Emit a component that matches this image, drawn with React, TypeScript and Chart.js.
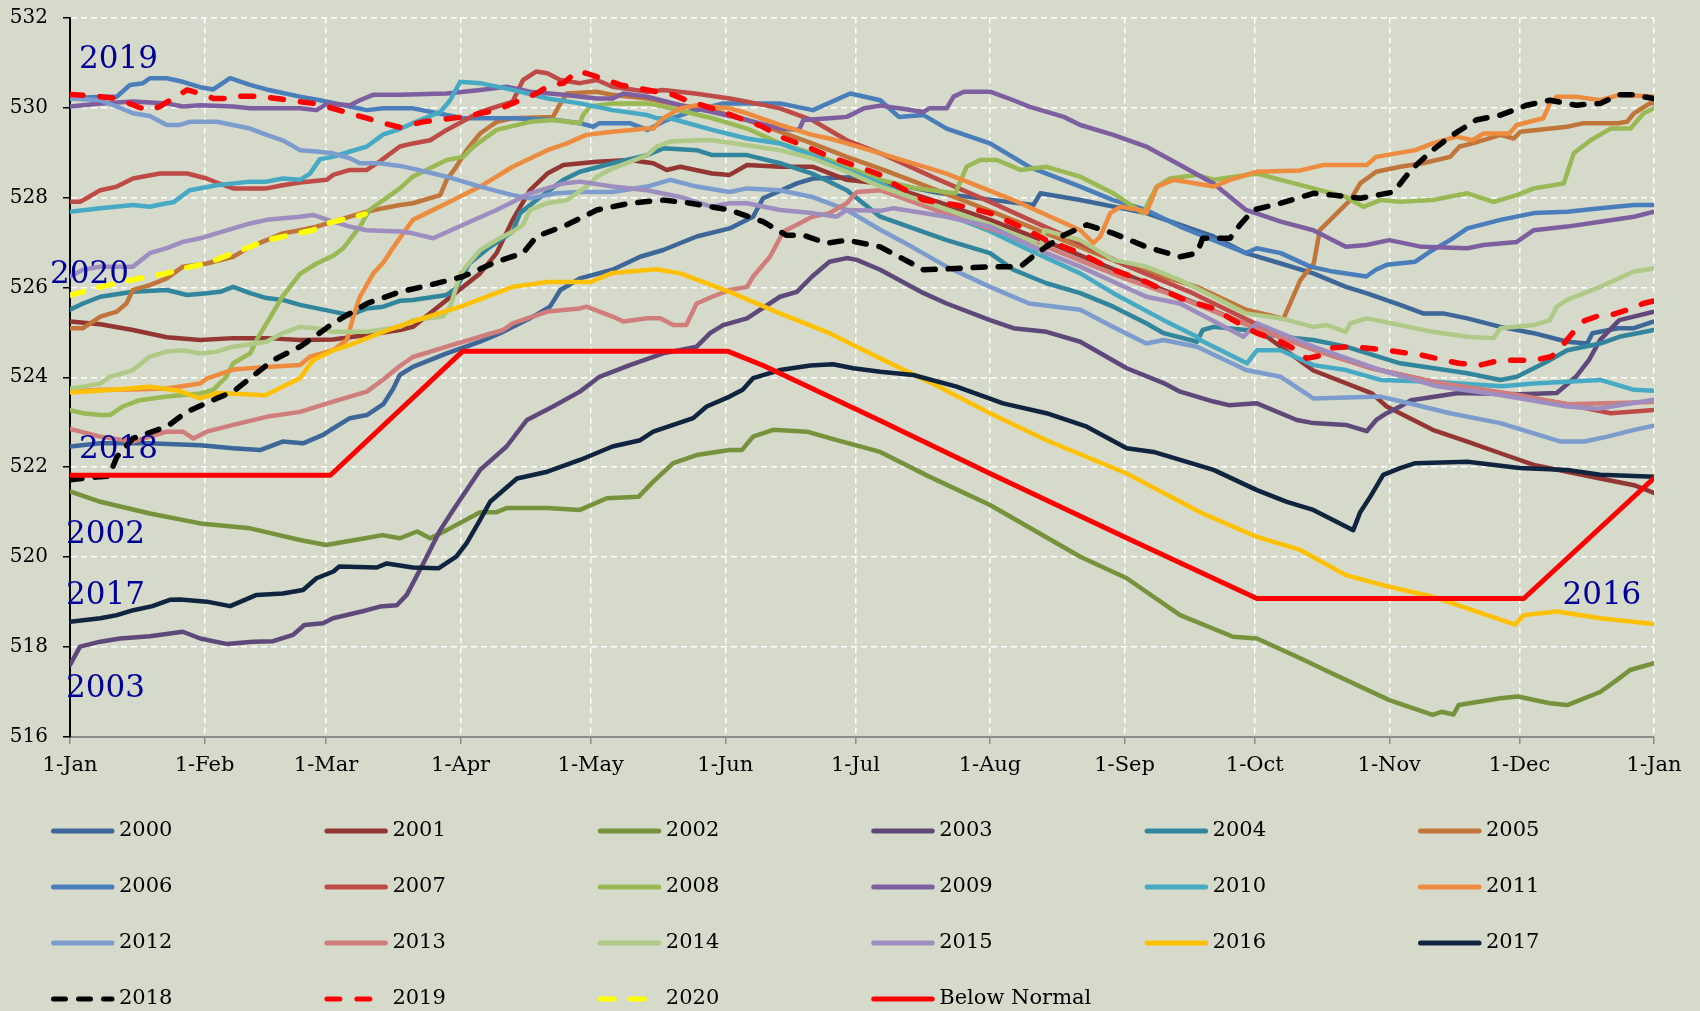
import React, { useEffect, useRef } from 'react';
import { Chart, registerables } from 'chart.js';

Chart.register(...registerables);

// ---------- axis data ----------
const MONTH_DAYS = [0, 31, 59, 90, 120, 151, 181, 212, 243, 273, 304, 334, 365];
const MONTH_LABELS = ['1-Jan', '1-Feb', '1-Mar', '1-Apr', '1-May', '1-Jun', '1-Jul', '1-Aug', '1-Sep', '1-Oct', '1-Nov', '1-Dec', '1-Jan'];
const Y_MIN = 516;
const Y_MAX = 532;
const Y_STEP = 2;

// ---------- series (day of year, elevation) ----------
const S2000: [number, number][] = [[0,522.46],[7,522.53],[18,522.53],[30,522.49],[37.6,522.42],[43.8,522.38],[49,522.57],[53.7,522.53],[58.3,522.72],[60.6,522.86],[64.5,523.09],[68.4,523.16],[72.2,523.4],[74.5,523.75],[76,524.05],[79,524.23],[86.8,524.53],[94.5,524.79],[99.8,525.01],[106,525.31],[110.6,525.57],[113,525.94],[117.5,526.2],[125,526.39],[131.4,526.68],[136.7,526.83],[144.4,527.13],[152,527.31],[157.4,527.57],[159.7,527.98],[167.5,528.31],[171.2,528.42],[180,528.45],[187,528.35],[200,528.1],[212,527.95],[222,527.83],[223.6,528.09],[232.8,527.94],[248,527.65],[263.5,527.13],[271,526.76],[279,526.53],[286.5,526.31],[294,526.01],[298.7,525.87],[306.5,525.61],[311.8,525.42],[316.4,525.42],[322,525.31],[329.6,525.12],[337.3,524.98],[345,524.79],[349.6,524.75],[350.8,524.98],[356.7,525.09],[360.4,525.09],[365,525.24]];
const S2001: [number, number][] = [[0,525.24],[7,525.18],[14.5,525.05],[22.3,524.89],[30,524.83],[37.6,524.87],[45.3,524.87],[53,524.83],[60.6,524.84],[68.4,524.94],[76,525.05],[79,525.12],[86.8,525.72],[94.5,526.31],[98.3,526.76],[102,527.5],[106,528.16],[110,528.53],[113.7,528.72],[121.4,528.79],[129,528.83],[134.4,528.76],[137.5,528.61],[140.6,528.68],[148,528.53],[152,528.5],[156,528.72],[163.6,528.68],[171.2,528.68],[179,528.39],[186.7,528.31],[200,527.9],[212,527.5],[228,526.9],[243,526.3],[258,525.7],[273,525.1],[286.5,524.15],[300,523.64],[303.4,523.35],[314,522.83],[322,522.57],[329.6,522.31],[337.3,522.05],[345,521.9],[352.6,521.75],[360.4,521.6],[365,521.43]];
const S2002: [number, number][] = [[0,521.46],[7,521.23],[18.4,520.97],[30,520.75],[41.5,520.64],[53,520.38],[59,520.27],[68,520.42],[72,520.49],[76,520.42],[80,520.57],[83,520.42],[86.8,520.6],[94.5,521.0],[98.3,521.0],[100.6,521.09],[110,521.09],[117.5,521.05],[123.7,521.31],[131,521.34],[134.4,521.68],[139,522.09],[144.4,522.27],[152,522.38],[154.8,522.38],[157.4,522.68],[162,522.83],[169.8,522.79],[176.7,522.6],[186.7,522.34],[198,521.79],[212,521.16],[232.8,520.01],[243.5,519.53],[255.8,518.71],[268,518.23],[273.5,518.19],[283.5,517.75],[290,517.45],[304,516.82],[314,516.49],[316,516.56],[318.8,516.5],[320,516.71],[329.6,516.86],[333.6,516.9],[341,516.75],[345,516.71],[352.6,517.0],[356.5,517.27],[359.5,517.49],[365,517.64]];
const S2003: [number, number][] = [[0,517.6],[2.3,518.01],[7,518.12],[11.5,518.19],[18.4,518.24],[26,518.34],[30,518.19],[36,518.07],[42.2,518.12],[46.8,518.13],[51.4,518.27],[54,518.49],[58.3,518.53],[60.6,518.64],[68.4,518.82],[71.4,518.9],[75.3,518.93],[77.6,519.16],[81.4,519.86],[85.3,520.6],[88.3,521.05],[94.5,521.94],[100.6,522.46],[105.3,523.05],[111.3,523.35],[117.5,523.68],[122,524.01],[129,524.27],[136.7,524.53],[144.4,524.68],[147.5,524.98],[150.5,525.16],[156,525.31],[163.6,525.79],[167.5,525.9],[171,526.24],[175,526.57],[179,526.65],[181.3,526.61],[186.7,526.39],[196.7,525.87],[202,525.64],[212,525.27],[217.4,525.09],[225,525.01],[232.8,524.79],[243.5,524.2],[252,523.87],[255.8,523.68],[263.5,523.46],[267,523.38],[273.5,523.42],[282.7,523.05],[286.5,522.98],[294,522.94],[298.8,522.8],[301,523.05],[303.4,523.2],[306.5,523.35],[309,523.49],[320,523.65],[334,523.62],[342.6,523.65],[347,524.01],[350,524.38],[352.6,524.83],[357,525.27],[365,525.46]];
const S2004: [number, number][] = [[0,525.5],[3,525.64],[7,525.79],[14.5,525.9],[22.3,525.94],[27,525.83],[31.5,525.87],[34.6,525.9],[37.6,526.01],[41.5,525.87],[45.3,525.76],[49,525.72],[53,525.61],[60.6,525.46],[64.5,525.38],[68.4,525.53],[72.2,525.57],[76,525.7],[79,525.72],[86.8,525.83],[89,525.98],[92,526.53],[96.8,526.9],[102,527.24],[103.7,527.65],[107.5,527.94],[113.7,528.39],[117.5,528.57],[125,528.76],[133,528.94],[136.7,529.09],[144.4,529.05],[148,528.94],[156,528.94],[163.6,528.76],[171,528.53],[179,528.16],[186.7,527.57],[202,527.05],[212,526.76],[217.4,526.39],[225,526.09],[232.8,525.87],[240.4,525.57],[248,525.2],[252,524.98],[259.7,524.79],[261,525.05],[263.5,525.12],[271,525.05],[279,524.9],[286.5,524.83],[294,524.68],[306.5,524.31],[322,524.09],[329.6,523.94],[333.4,524.01],[341,524.38],[345,524.6],[352.6,524.75],[357,524.9],[365,525.05]];
const S2005: [number, number][] = [[0,525.09],[3,525.09],[7,525.35],[10.8,525.46],[13,525.64],[14.5,525.94],[18.4,526.05],[22.3,526.2],[26,526.46],[31.5,526.53],[37.6,526.68],[41.5,526.9],[45.3,527.05],[49,527.2],[53,527.27],[56.8,527.35],[60.6,527.46],[64.5,527.57],[68.4,527.68],[72.2,527.76],[76,527.83],[79,527.87],[85.3,528.05],[86.8,528.39],[89,528.68],[91.4,529.05],[94.5,529.42],[98.3,529.68],[102,529.76],[111.3,529.79],[113,530.09],[114.5,530.31],[121.4,530.35],[125,530.28],[133,530.2],[140.6,530.05],[148,529.94],[156,529.72],[163.6,529.46],[171,529.2],[179,528.9],[186.7,528.64],[200,528.15],[212,527.7],[225,527.2],[243,526.5],[259.7,526.01],[271,525.5],[279.6,525.3],[283.5,526.16],[286.6,526.53],[288,527.27],[295,527.94],[297.3,528.31],[301,528.57],[306.5,528.68],[311.8,528.76],[318,528.9],[320.2,529.13],[323.2,529.2],[329.6,529.39],[332.7,529.31],[334.2,529.46],[345,529.57],[348.8,529.65],[356.7,529.65],[358.8,529.68],[360.4,529.87],[364,530.09],[365,530.1]];
const S2006: [number, number][] = [[0,530.2],[7,530.24],[10.8,530.24],[13.8,530.5],[16.8,530.54],[18.4,530.65],[22.3,530.65],[26,530.57],[30,530.45],[33,530.4],[36.9,530.65],[41.5,530.5],[45.3,530.4],[53,530.24],[57.6,530.16],[64.5,530.02],[68.4,529.94],[72.2,529.98],[79,529.98],[90.6,529.76],[102,529.76],[112,529.72],[117.5,529.65],[120.6,529.57],[122,529.65],[129,529.65],[133,529.5],[137,529.7],[143,529.9],[150.5,530.09],[163.6,530.09],[171.2,529.94],[179.8,530.31],[186.7,530.16],[191,529.79],[196.7,529.83],[202,529.53],[212,529.2],[221,528.68],[232.8,528.24],[240.4,527.94],[248,527.72],[255.8,527.35],[263.5,527.05],[271,526.76],[273.5,526.87],[279,526.76],[285.8,526.46],[291,526.35],[298.7,526.24],[300.9,526.39],[303.4,526.5],[310,526.57],[314,526.83],[318,527.05],[322,527.31],[329.6,527.5],[337.3,527.65],[345,527.68],[352.6,527.76],[360.4,527.83],[365,527.83]];
const S2007: [number, number][] = [[0,527.9],[2.3,527.9],[3.8,527.98],[7,528.16],[10.8,528.24],[14.5,528.42],[20.7,528.53],[27,528.53],[31.5,528.42],[33.8,528.33],[37.6,528.2],[45.3,528.2],[49,528.27],[53,528.33],[59.2,528.39],[60.6,528.5],[64.5,528.61],[68.4,528.61],[71.4,528.8],[76,529.13],[79,529.2],[83,529.27],[86.8,529.5],[94.5,529.9],[102,530.13],[104.4,530.61],[107.5,530.8],[110,530.76],[113,530.61],[117.5,530.54],[121.4,530.61],[125,530.46],[133,530.35],[136.7,530.39],[144,530.31],[152,530.2],[156,530.13],[163.6,529.98],[171,529.72],[179,529.27],[186.7,528.98],[200,528.4],[212,527.9],[228,527.2],[243,526.5],[258,525.9],[273,525.2],[287,524.6],[300,524.2],[314,523.9],[330,523.65],[345,523.4],[355,523.2],[365,523.27]];
const S2008: [number, number][] = [[0,523.27],[3,523.2],[7,523.16],[9.2,523.16],[12.2,523.35],[16,523.49],[22.3,523.57],[30,523.64],[33,523.72],[36,524.01],[37.6,524.31],[41.5,524.53],[43,524.83],[45.3,525.2],[49,525.8],[53,526.3],[56.8,526.53],[60.6,526.7],[63,526.87],[66.8,527.35],[69,527.72],[72.2,527.94],[76,528.2],[79,528.46],[86.8,528.83],[90.6,528.9],[93,529.13],[98.3,529.5],[106,529.68],[111.3,529.72],[117.5,529.65],[118.2,529.83],[119.8,530.02],[125,530.09],[133,530.09],[136.7,530.02],[148,529.76],[156,529.53],[163.6,529.2],[171,528.98],[179,528.68],[186.7,528.39],[195,528.2],[204,528.09],[206.6,528.68],[209.7,528.83],[213.6,528.83],[219,528.61],[225,528.68],[232.8,528.46],[240.4,528.09],[247.3,527.65],[250.4,528.24],[253.5,528.42],[259.7,528.5],[263.5,528.39],[273.5,528.53],[279,528.39],[286.5,528.2],[294,528.01],[298,527.79],[302,527.94],[306.5,527.9],[314,527.94],[322,528.09],[328,527.9],[333.4,528.05],[337.3,528.2],[344.2,528.31],[346.5,528.98],[350.4,529.27],[355,529.53],[359.6,529.53],[362.6,529.87],[365,529.98]];
const S2009: [number, number][] = [[0,530.02],[7,530.09],[14.5,530.13],[22.3,530.09],[26,530.02],[30,530.05],[37.6,530.02],[41.5,529.98],[53,529.98],[56.8,529.94],[59.2,530.08],[64.5,530.05],[66.8,530.16],[69.8,530.28],[76,530.28],[86.8,530.31],[94.5,530.39],[100.6,530.46],[106,530.35],[113.7,530.28],[121.4,530.2],[125,530.2],[127.5,530.31],[133,530.24],[140.6,530.05],[148,529.9],[156,529.72],[163.6,529.53],[168,529.5],[169,529.72],[175,529.76],[179,529.79],[183,529.98],[186.7,530.04],[191,529.98],[196.7,529.9],[198,529.98],[202,529.98],[203.6,530.24],[206,530.35],[212,530.35],[217.4,530.16],[221,530.02],[229,529.79],[232.8,529.61],[240.4,529.39],[248,529.13],[255.8,528.72],[263.5,528.31],[271,527.72],[279,527.46],[286.5,527.27],[294,526.9],[298.7,526.94],[304,527.05],[311.5,526.9],[322,526.87],[325.7,526.94],[333.4,527.01],[337.3,527.27],[345,527.35],[352.6,527.46],[360.4,527.57],[365,527.68]];
const S2010: [number, number][] = [[0,527.68],[7,527.76],[14.5,527.83],[18.4,527.79],[22.3,527.87],[23.8,527.89],[27.6,528.16],[33.8,528.27],[41.5,528.35],[45.3,528.35],[49,528.42],[53,528.39],[55.3,528.53],[57.6,528.85],[60.6,528.9],[64.5,529.02],[68.4,529.13],[72.2,529.4],[76,529.52],[79,529.65],[85.3,529.9],[87.6,530.16],[89.9,530.57],[94.5,530.54],[102,530.39],[110,530.2],[117.5,530.09],[125,529.94],[133,529.83],[135.2,529.76],[138.3,529.76],[148,529.5],[156,529.31],[163.6,529.2],[171,528.94],[179,528.61],[186.7,528.31],[200,527.7],[212,527.25],[221,526.83],[232.8,526.31],[240.4,525.87],[252,525.27],[259.7,524.9],[260.4,524.83],[271.2,524.31],[273.5,524.6],[279,524.6],[286.5,524.27],[294,524.16],[302,523.94],[314,523.9],[330,523.8],[337.3,523.86],[352.6,523.94],[360.4,523.72],[365,523.7]];
const S2011: [number, number][] = [[0,523.68],[7,523.72],[14.5,523.73],[22.3,523.75],[30,523.86],[31.5,523.97],[37.6,524.17],[45.3,524.23],[53,524.27],[55.3,524.46],[60.6,524.6],[63.8,524.83],[65.3,525.35],[66.8,525.79],[69.9,526.31],[72.2,526.55],[75.3,527.0],[79,527.5],[86.8,527.87],[94.5,528.24],[102,528.68],[110,529.05],[114.5,529.2],[119,529.39],[125,529.46],[133,529.53],[134.4,529.53],[136.7,529.76],[140.6,529.98],[144.4,530.05],[152,529.98],[156,529.87],[163.6,529.61],[171,529.39],[175,529.31],[179,529.2],[186.7,528.98],[202,528.53],[217.4,527.94],[232.8,527.27],[235.8,526.98],[237.4,527.13],[239.7,527.65],[242,527.79],[246.6,527.72],[248,527.65],[250.5,528.24],[254.3,528.39],[263.5,528.24],[267.3,528.39],[273.5,528.57],[283.5,528.6],[288.8,528.72],[298.8,528.72],[301,528.9],[310,529.05],[314,529.2],[319.5,529.35],[323.2,529.27],[325.7,529.42],[331.6,529.42],[333.4,529.61],[339.5,529.76],[341,530.09],[342.6,530.24],[347,530.24],[352.6,530.16],[357,530.28],[365,530.24]];
const S2012: [number, number][] = [[0,530.2],[7,530.16],[10.8,530.02],[14.5,529.87],[18.4,529.81],[22.3,529.61],[25.3,529.61],[27.6,529.68],[33.8,529.68],[37.6,529.61],[41.5,529.53],[45.3,529.39],[49,529.27],[53,529.05],[56.8,529.02],[60.6,528.98],[64.5,528.87],[66.8,528.76],[71.4,528.76],[76,528.7],[79,528.64],[86.8,528.46],[94.5,528.24],[102,528.05],[106,527.98],[112,528.09],[117.5,528.12],[125,528.12],[133,528.24],[138.3,528.39],[144.4,528.24],[152,528.12],[156,528.2],[163.6,528.16],[171,528.01],[179,527.72],[186.7,527.28],[194,526.9],[202,526.46],[212,526.01],[221,525.64],[232.8,525.5],[240.4,525.12],[248,524.75],[252,524.83],[259.7,524.68],[271,524.16],[279,524.01],[286.5,523.53],[302,523.57],[309.5,523.4],[318,523.2],[329.6,522.98],[337.3,522.75],[343.5,522.57],[348.9,522.57],[354.3,522.68],[360.4,522.83],[365,522.92]];
const S2013: [number, number][] = [[0,522.85],[7,522.68],[14.5,522.57],[18.4,522.68],[22.3,522.79],[26,522.79],[28.4,522.64],[31.5,522.79],[37.6,522.94],[45.3,523.12],[53,523.23],[60.6,523.46],[68.4,523.68],[72.2,523.95],[76,524.25],[79,524.45],[86.8,524.68],[94.5,524.9],[99.8,525.05],[102,525.2],[110,525.46],[117.5,525.53],[119,525.57],[125,525.35],[127.5,525.24],[133,525.31],[136,525.31],[139,525.16],[142,525.16],[144.4,525.64],[148,525.79],[152,525.94],[156,526.01],[157.4,526.24],[161.3,526.68],[164.4,527.24],[167.5,527.39],[171,527.57],[175,527.65],[179,527.87],[181.3,528.12],[186.7,528.16],[200,527.7],[212,527.3],[225,526.9],[243,526.2],[255,525.8],[273,525.1],[287,524.6],[300,524.2],[314,523.9],[334,523.6],[345,523.4],[365,523.45]];
const S2014: [number, number][] = [[0,523.75],[3,523.79],[7,523.86],[9.2,524.01],[10.8,524.05],[14.5,524.16],[18.4,524.46],[22.3,524.57],[26,524.6],[30,524.53],[33.8,524.57],[37.6,524.68],[45.3,524.79],[49,524.98],[53,525.12],[56.8,525.09],[60.6,525.01],[68.4,525.01],[76,525.12],[79,525.27],[86,525.35],[87.6,525.57],[90,526.31],[94.5,526.83],[98.3,527.05],[102,527.24],[104.4,527.39],[106,527.72],[110,527.87],[114.5,527.94],[119,528.24],[121.4,528.46],[125,528.64],[133,528.94],[135.2,529.13],[138.3,529.24],[144.4,529.27],[148,529.27],[156,529.16],[163.6,529.05],[171,528.87],[179,528.57],[186.7,528.24],[200,527.8],[212,527.4],[222,527.0],[223.5,526.8],[224.5,527.27],[232.8,527.05],[240.4,526.61],[248,526.46],[255.8,526.16],[263.5,525.79],[271,525.42],[279,525.31],[286.5,525.12],[289.6,525.16],[294,525.01],[295,525.2],[298.8,525.31],[306.5,525.16],[314,525.01],[322,524.9],[328,524.87],[329.6,525.09],[337.3,525.16],[341,525.27],[342.6,525.57],[345,525.72],[352.6,526.01],[360.4,526.35],[365,526.42]];
const S2015: [number, number][] = [[0,526.24],[3,526.39],[7,526.46],[14.5,526.46],[18.4,526.76],[22.3,526.87],[26,527.01],[30,527.09],[33.8,527.2],[37.6,527.31],[41.5,527.42],[45.3,527.5],[53,527.57],[56,527.61],[60.6,527.46],[64.5,527.35],[68.4,527.27],[76,527.24],[79,527.2],[83.7,527.09],[90.6,527.39],[98.3,527.72],[106,528.09],[113.7,528.31],[117.5,528.35],[125,528.24],[133,528.16],[140.6,528.01],[148,527.79],[152,527.87],[156,527.87],[163.6,527.72],[171,527.65],[176.7,527.57],[179,527.72],[186.7,527.7],[189.8,527.76],[202,527.57],[212,527.35],[225,526.76],[232.8,526.46],[248,525.79],[255.8,525.64],[270.4,524.9],[273.5,525.2],[286.5,524.68],[302,524.16],[315,523.8],[330,523.6],[345,523.35],[352,523.3],[365,523.5]];
const S2016: [number, number][] = [[0,523.66],[10,523.72],[18.4,523.79],[25,523.7],[30,523.53],[34,523.65],[45,523.6],[53,523.98],[56,524.38],[60.7,524.6],[64.5,524.72],[71.4,524.98],[76,525.14],[79,525.24],[90,525.57],[102,526.01],[110,526.12],[120,526.12],[125,526.32],[135,526.4],[140.6,526.31],[152,525.9],[163.6,525.42],[175,524.98],[186.7,524.42],[200,523.8],[212,523.2],[225,522.6],[243.5,521.86],[261,520.97],[273.5,520.45],[283.5,520.16],[294,519.6],[304,519.34],[314,519.12],[333,518.5],[335,518.71],[342.7,518.79],[352.6,518.64],[365,518.51]];
const S2017: [number, number][] = [[0,518.56],[7,518.64],[10.8,518.71],[14.6,518.82],[19,518.91],[23,519.05],[25.4,519.06],[31.5,519.01],[36.9,518.91],[43,519.16],[49,519.19],[53.7,519.27],[56.8,519.53],[60.7,519.68],[62,519.79],[70.7,519.77],[73,519.86],[79,519.77],[84.9,519.75],[89,520.01],[91.4,520.31],[94.5,520.83],[96.8,521.23],[103,521.75],[110,521.9],[117.5,522.16],[125,522.46],[131.4,522.6],[134.4,522.79],[143.6,523.09],[146.7,523.35],[152,523.57],[155,523.72],[157.4,523.98],[163.6,524.16],[170.6,524.26],[175.8,524.29],[180.5,524.2],[186.7,524.12],[194.3,524.05],[204.3,523.79],[215,523.42],[225,523.2],[234.3,522.9],[243.5,522.42],[249.7,522.34],[263.5,521.94],[273.5,521.49],[280.4,521.23],[286.5,521.05],[295.7,520.6],[297.3,521.0],[299.6,521.34],[302.6,521.83],[306.5,521.98],[310,522.09],[322,522.12],[334,521.98],[345,521.94],[352.6,521.83],[365,521.79]];
const S2018: [number, number][] = [[0,521.72],[7,521.79],[9,521.8],[10.8,522.23],[14.5,522.64],[22.3,522.9],[26.9,523.23],[33.8,523.53],[37.6,523.68],[41.5,523.98],[46.8,524.38],[53,524.68],[56.9,524.94],[60.6,525.2],[64.5,525.42],[68.4,525.64],[76,525.9],[83,526.05],[90.6,526.24],[98.3,526.57],[104.4,526.76],[107.5,527.13],[114.5,527.39],[121.4,527.72],[129,527.87],[136.7,527.94],[143,527.87],[152,527.72],[159.7,527.46],[165,527.16],[169,527.16],[174.4,526.98],[179,527.05],[186.7,526.9],[196.7,526.39],[204.3,526.42],[212,526.46],[219,526.46],[222.8,526.76],[229,527.16],[234.3,527.39],[240.4,527.2],[248,526.9],[255.8,526.68],[259.7,526.76],[261,527.09],[267.3,527.09],[269.6,527.39],[272.7,527.72],[279,527.87],[286.5,528.09],[291,528.05],[297.3,527.98],[305,528.12],[309,528.61],[314,529.05],[318,529.35],[324,529.72],[329.6,529.83],[335.7,530.05],[341,530.16],[347,530.05],[352.6,530.09],[357,530.28],[360,530.28],[365,530.2]];
const S2019: [number, number][] = [[0,530.29],[7,530.24],[10.8,530.2],[16,530.0],[18.4,529.94],[20.7,530.02],[23,530.16],[27,530.39],[30,530.31],[33,530.2],[36,530.2],[37.6,530.25],[43.8,530.25],[49,530.18],[56.9,530.08],[64.5,529.87],[68.4,529.76],[72.2,529.65],[76,529.56],[81.4,529.68],[90.6,529.79],[98.3,529.94],[103.7,530.16],[107.5,530.31],[110.6,530.5],[113.7,530.54],[116.8,530.8],[119,530.76],[123.7,530.61],[126.8,530.5],[133,530.39],[139,530.28],[142,530.16],[148,529.98],[154.4,529.76],[159.7,529.57],[163.6,529.35],[169.8,529.13],[175,528.9],[180.5,528.72],[186.7,528.5],[189.7,528.31],[196.7,527.94],[204.3,527.83],[212,527.65],[219,527.35],[225,527.05],[232.8,526.76],[240.4,526.39],[248,526.12],[255.8,525.76],[263.5,525.53],[268,525.27],[273.5,524.98],[279,524.79],[282.7,524.6],[285,524.42],[288,524.48],[290.4,524.65],[295.7,524.68],[303.4,524.6],[311.5,524.49],[320,524.31],[325,524.27],[329.6,524.38],[337.5,524.38],[341.4,524.46],[343.7,524.68],[346.8,525.05],[348.5,525.24],[352.6,525.38],[355.6,525.4],[360,525.53],[362.5,525.64],[365,525.7]];
const S2020: [number, number][] = [[0,525.83],[3,525.9],[7,526.01],[10.8,526.09],[16,526.2],[22.3,526.31],[26,526.42],[31.5,526.53],[37.6,526.76],[40.7,526.87],[45.3,527.05],[50.7,527.16],[56,527.27],[59.2,527.42],[63.8,527.53],[68,527.63]];
const BELOW_NORMAL: [number, number][] = [[0,521.82],[60,521.82],[90.5,524.58],[151.5,524.58],[160,524.25],[187,523.02],[212,521.86],[243,520.45],[273.5,519.08],[335,519.08],[365,521.76]];

const SERIES_NAMES = ['2000','2001','2002','2003','2004','2005','2006','2007','2008','2009','2010','2011','2012','2013','2014','2015','2016','2017','2018','2019','2020','Below Normal'];
const SERIES_VALUES = [S2000,S2001,S2002,S2003,S2004,S2005,S2006,S2007,S2008,S2009,S2010,S2011,S2012,S2013,S2014,S2015,S2016,S2017,S2018,S2019,S2020,BELOW_NORMAL];

// text labels placed in data units (day, elevation)
const NOTE_TEXTS = ['2019', '2020', '2018', '2002', '2017', '2003', '2016'];
const NOTE_DAYS = [2.1, -4.6, 2.1, -0.9, -0.9, -0.9, 343.9];
const NOTE_LEVELS = [530.87, 526.09, 522.2, 520.31, 518.96, 516.9, 518.96];

// ---------- styles ----------
const BG = '#D6DACA';
const FONT = '"DejaVu Serif", serif';
const COLORS = ['#3D6699','#943634','#76923C','#5F497A','#31859C','#C0753A','#4A7EBB','#BE4B48','#98B954','#7D5FA0','#46AAC4','#ED8C3F','#7C9CCE','#D07E7C','#AFC987','#9E8DBF','#FFC000','#0F243E','#000000','#FF0000','#FFFF00','#FF0000'];
const DASHES: Record<string, number[]> = { '2018': [12, 13], '2019': [13, 17], '2020': [14, 16] };
const WIDTHS: Record<string, number> = { '2018': 5.5, '2019': 5.5, '2020': 5.5, 'Below Normal': 5 };

const LEG_LEFT = 51;
const LEG_COL = 273.4;
const LEG_TOP = 831;
const LEG_ROW = 56;

const bgPlugin = {
  id: 'bg',
  beforeDraw(chart: any) {
    const ctx = chart.ctx;
    ctx.save();
    ctx.fillStyle = BG;
    ctx.fillRect(0, 0, chart.width, chart.height);
    ctx.restore();
  },
};

const notesPlugin = {
  id: 'notes',
  afterDatasetsDraw(chart: any) {
    const ctx = chart.ctx;
    const xs = chart.scales.x;
    const ys = chart.scales.y;
    ctx.save();
    ctx.font = `31px ${FONT}`;
    ctx.fillStyle = '#000099';
    ctx.textAlign = 'left';
    ctx.textBaseline = 'alphabetic';
    NOTE_TEXTS.forEach((t, i) => {
      ctx.fillText(t, xs.getPixelForValue(NOTE_DAYS[i]), ys.getPixelForValue(NOTE_LEVELS[i]));
    });
    ctx.restore();
  },
};

const legendPlugin = {
  id: 'gridLegend',
  afterDraw(chart: any) {
    const ctx = chart.ctx;
    chart.data.datasets.forEach((ds: any, i: number) => {
      const col = i % 6;
      const row = Math.floor(i / 6);
      const x = LEG_LEFT + col * LEG_COL;
      const y = LEG_TOP + row * LEG_ROW;
      ctx.save();
      ctx.strokeStyle = ds.borderColor;
      ctx.lineWidth = 5;
      ctx.lineCap = 'round';
      ctx.setLineDash(ds.borderDash || []);
      ctx.beginPath();
      ctx.moveTo(x + 2.5, y);
      ctx.lineTo(x + 61, y);
      ctx.stroke();
      ctx.setLineDash([]);
      ctx.fillStyle = '#000';
      ctx.font = `21px ${FONT}`;
      ctx.textAlign = 'left';
      ctx.textBaseline = 'middle';
      ctx.fillText(ds.label, x + 68, y);
      ctx.restore();
    });
  },
};

export default function App() {
  const ref = useRef<HTMLCanvasElement>(null);

  useEffect(() => {
    document.body.style.margin = '0';
    document.body.style.background = BG;
    Chart.defaults.font.family = FONT;
    const n = SERIES_NAMES.length;
    const datasets = SERIES_NAMES.map((name, i) => ({
      label: name,
      data: SERIES_VALUES[i].map(([d, v]) => ({ x: d, y: v })),
      borderColor: COLORS[i],
      backgroundColor: COLORS[i],
      borderWidth: WIDTHS[name] ?? 4.5,
      borderDash: DASHES[name] ?? [],
      borderCapStyle: 'round' as const,
      borderJoinStyle: 'round' as const,
      pointRadius: 0,
      pointHoverRadius: 0,
      tension: 0,
      fill: false,
      order: n - 1 - i,
    }));

    const chart = new Chart(ref.current as HTMLCanvasElement, {
      type: 'line',
      data: { datasets },
      options: {
        responsive: false,
        devicePixelRatio: 1,
        animation: false,
        events: [],
        layout: { padding: { top: 17.5, right: 46, bottom: 214, left: 0 } },
        plugins: { legend: { display: false }, tooltip: { enabled: false } },
        scales: {
          x: {
            type: 'linear',
            min: 0,
            max: 365,
            afterBuildTicks: (s: any) => {
              s.ticks = MONTH_DAYS.map((v) => ({ value: v }));
            },
            afterFit: (s: any) => {
              s.height = 60;
              s.paddingLeft = 0;
              s.paddingRight = 0;
            },
            ticks: {
              autoSkip: false,
              maxRotation: 0,
              minRotation: 0,
              padding: 9,
              color: '#000',
              font: { size: 21 },
              callback: (v: any) => {
                const k = MONTH_DAYS.indexOf(Number(v));
                return k >= 0 ? MONTH_LABELS[k] : '';
              },
            },
            grid: { color: '#FFFFFF', lineWidth: 1.5, tickLength: 7, tickColor: '#8C8C8C', tickWidth: 1.5, drawTicks: true },
            border: { display: true, color: '#8C8C8C', width: 2, dash: [6, 4] },
          },
          y: {
            min: Y_MIN,
            max: Y_MAX,
            afterFit: (s: any) => {
              s.width = 70;
              s.paddingTop = 0;
              s.paddingBottom = 0;
            },
            ticks: { stepSize: Y_STEP, padding: 15, color: '#000', font: { size: 20 } },
            grid: { color: '#FFFFFF', lineWidth: 1.5, tickLength: 7, tickColor: '#000', tickWidth: 1.5, drawTicks: true },
            border: { display: true, color: '#000', width: 2, dash: [6, 4] },
          },
        },
      },
      plugins: [bgPlugin, notesPlugin, legendPlugin],
    });
    return () => chart.destroy();
  }, []);

  return (
    <div style={{ position: 'fixed', left: 0, top: 0, width: 1700, height: 1011, background: BG }}>
      <canvas ref={ref} width={1700} height={1011} style={{ display: 'block', width: 1700, height: 1011 }} />
    </div>
  );
}
